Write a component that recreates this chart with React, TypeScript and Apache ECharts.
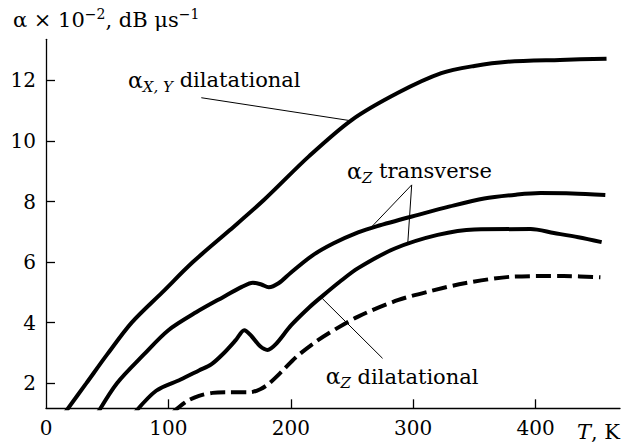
import React, { useEffect, useRef } from "react";
import * as echarts from "echarts";

// Curve 1: alpha X,Y dilatational
const xyT = [15, 33, 50, 70, 95, 120, 150, 178, 215, 250, 288, 323, 350, 377, 420, 458];
const xyA = [1.0, 2.0, 2.95, 4.0, 5.0, 6.0, 7.05, 8.05, 9.5, 10.7, 11.6, 12.24, 12.48, 12.62, 12.68, 12.72];

// Curve 2: alpha Z transverse (upper)
const zt1T = [42, 58, 80, 100, 123, 145, 160, 169, 176, 182, 190, 200, 217, 235, 255, 270, 304, 330, 358, 385, 404, 430, 457];
const zt1A = [1.0, 2.0, 2.95, 3.75, 4.35, 4.85, 5.18, 5.32, 5.26, 5.17, 5.3, 5.65, 6.2, 6.62, 6.98, 7.18, 7.56, 7.84, 8.1, 8.23, 8.28, 8.27, 8.22];

// Curve 3: alpha Z transverse (lower)
const zt2T = [72, 90, 110, 125, 135, 145, 155, 162, 168, 175, 181, 188, 200, 215, 225, 240, 255, 285, 320, 350, 396, 415, 435, 454];
const zt2A = [1.0, 1.75, 2.12, 2.42, 2.62, 2.98, 3.42, 3.75, 3.55, 3.22, 3.1, 3.3, 3.9, 4.5, 4.85, 5.35, 5.8, 6.45, 6.9, 7.08, 7.09, 6.96, 6.82, 6.66];

// Curve 4 (dashed): alpha Z dilatational
const zdT = [104, 115, 125, 136, 150, 167, 175, 182, 193, 204, 218, 231, 255, 288, 315, 342, 382, 423, 453];
const zdA = [1.05, 1.4, 1.58, 1.68, 1.7, 1.7, 1.8, 1.98, 2.4, 2.85, 3.3, 3.65, 4.2, 4.75, 5.05, 5.3, 5.52, 5.54, 5.5];

const xTicks = [100, 200, 300, 400];
const xLabels = [0, 100, 200, 300, 400];
const yTicks = [2, 4, 6, 8, 10, 12];

const FONT = "DejaVu Serif";

export default function App() {
  const ref = useRef<HTMLDivElement>(null);
  useEffect(() => {
    const el = ref.current as HTMLDivElement;
    const chart = echarts.init(el, null, { renderer: "svg" });
    const mk = (t: number[], a: number[]) => t.map((v, i) => [v, a[i]]);
    const base = {
      type: "line",
      showSymbol: false,
      smooth: 0.3,
      clip: true,
      silent: true,
    };
    const axisCommon = {
      type: "value",
      axisLine: { show: true, lineStyle: { color: "#000", width: 1.3 } },
      axisTick: { show: true, inside: true, length: 9, lineStyle: { color: "#000", width: 1.3 } },
      splitLine: { show: false },
      axisLabel: { color: "#000", fontFamily: FONT, fontSize: 20, margin: 10 },
    };
    chart.setOption({
      animation: false,
      textStyle: { fontFamily: FONT },
      grid: { left: 46, top: 39.3, right: 14, bottom: 36.7, containLabel: false, outerBoundsMode: "none" },
      xAxis: {
        ...axisCommon,
        min: 0,
        max: 469,
        axisTick: { ...axisCommon.axisTick, customValues: xTicks },
        axisLabel: { ...axisCommon.axisLabel, customValues: xLabels },
      },
      yAxis: {
        ...axisCommon,
        min: 1.17,
        max: 13.36,
        axisTick: { ...axisCommon.axisTick, customValues: yTicks },
        axisLabel: { ...axisCommon.axisLabel, customValues: yTicks },
      },
      series: [
        { ...base, data: mk(xyT, xyA), lineStyle: { color: "#000", width: 4 } },
        { ...base, data: mk(zt1T, zt1A), lineStyle: { color: "#000", width: 4 } },
        { ...base, data: mk(zt2T, zt2A), lineStyle: { color: "#000", width: 4 } },
        { ...base, data: mk(zdT, zdA), lineStyle: { color: "#000", width: 4, type: [15, 6], cap: "butt" } },
      ],
    });

    const p = (t: number, a: number) => chart.convertToPixel({ gridIndex: 0 }, [t, a]) as number[];
    const txtStyle = (text: string, rich: any, align = "left") => ({
      text,
      rich,
      fill: "#000",
      fontFamily: FONT,
      fontSize: 21,
      align,
      verticalAlign: "middle",
      textAlign: align,
      textVerticalAlign: "middle",
    });
    const labelRich = {
      a: { fontFamily: FONT, fontSize: 22, lineHeight: 28, color: "#000" },
      b: { fontFamily: FONT, fontSize: 15, fontStyle: "italic", lineHeight: 15, verticalAlign: "bottom", color: "#000" },
      n: { fontFamily: FONT, fontSize: 21, lineHeight: 28, color: "#000" },
    };
    const leader = (a: number[], b: number[]) => ({
      type: "line",
      shape: { x1: a[0], y1: a[1], x2: b[0], y2: b[1] },
      style: { stroke: "#000", lineWidth: 1 },
      silent: true,
    });
    const t1 = p(67, 12.0);
    const t2 = p(246, 9.0);
    const t3 = p(228.5, 2.22);
    const ttl = p(-27, 14.0);
    const tk = p(469, 0.4);
    chart.setOption({
      graphic: [
        {
          type: "text",
          x: ttl[0],
          y: ttl[1],
          style: txtStyle("{a|α × 10}{s|−2}{a|, dB μs}{s|−1}", {
            a: { fontFamily: FONT, fontSize: 21, lineHeight: 26, color: "#000" },
            s: { fontFamily: FONT, fontSize: 14, lineHeight: 14, verticalAlign: "top", color: "#000" },
          }),
        },
        { type: "text", x: t1[0], y: t1[1], style: txtStyle("{a|α}{b|X, Y}{n| dilatational}", labelRich) },
        { type: "text", x: t2[0], y: t2[1], style: txtStyle("{a|α}{b|Z}{n| transverse}", labelRich) },
        { type: "text", x: t3[0], y: t3[1], style: txtStyle("{a|α}{b|Z}{n| dilatational}", labelRich) },
        {
          type: "text",
          x: tk[0],
          y: tk[1],
          style: txtStyle("{i|T}{n|, K}", {
            i: { fontFamily: FONT, fontSize: 21, fontStyle: "italic", color: "#000" },
            n: { fontFamily: FONT, fontSize: 21, color: "#000" },
          }, "right"),
        },
        leader(p(126.9, 11.43), p(247.4, 10.68)),
        leader(p(298.8, 8.55), p(265, 7.12)),
        leader(p(298.8, 8.55), p(295.6, 6.62)),
        leader(p(225.7, 4.8), p(275, 2.82)),
      ],
    });
    return () => chart.dispose();
  }, []);
  return (
    <div
      ref={ref}
      style={{ position: "fixed", left: 0, top: 0, width: 634, height: 445, background: "#fff" }}
    />
  );
}
